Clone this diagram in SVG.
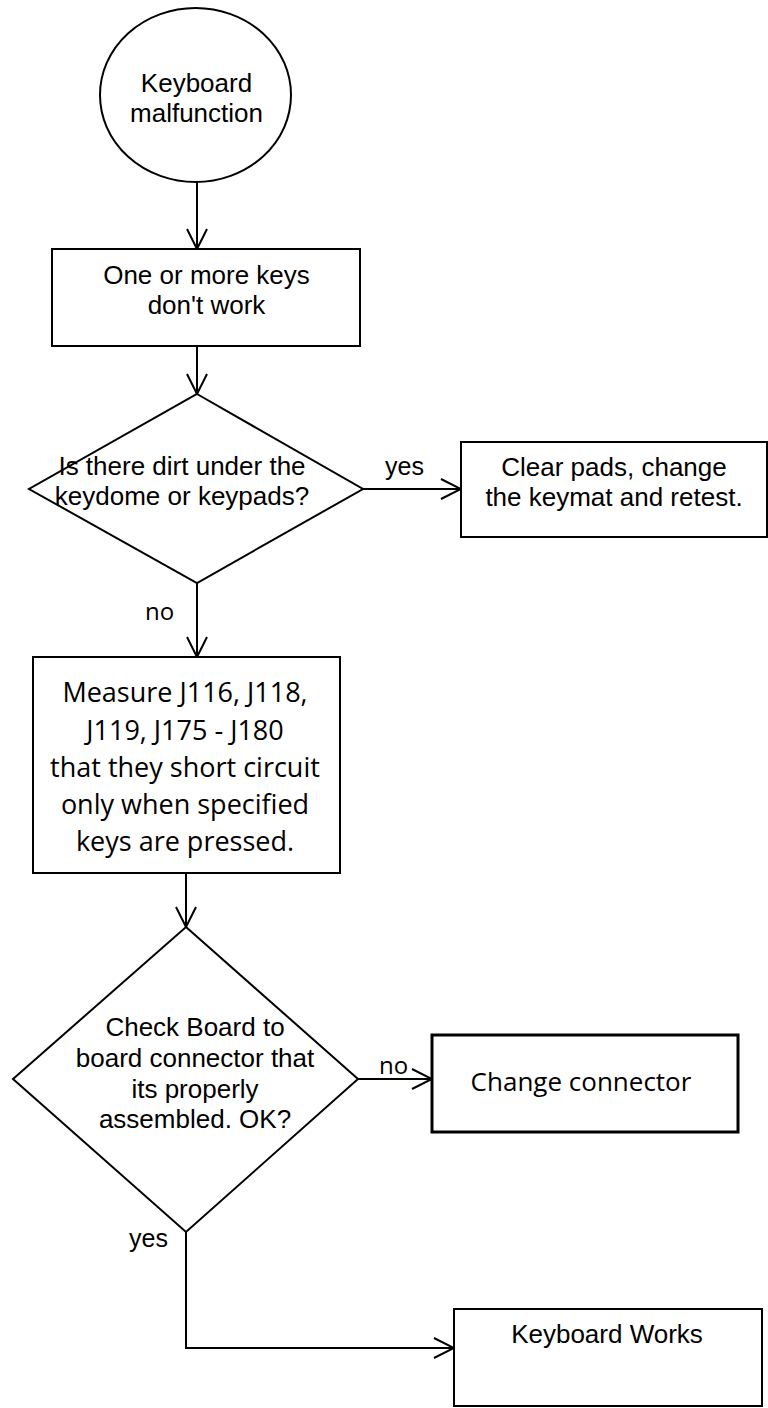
<svg xmlns="http://www.w3.org/2000/svg" width="768" height="1408" viewBox="0 0 768 1408">
<style>
.shape{fill:#fff;stroke:#000;stroke-width:2}
.thick{stroke-width:3}
.conn{fill:none;stroke:#000;stroke-width:2}
.a{font-family:"Liberation Sans",Arial,sans-serif;font-size:26px;fill:#000;text-anchor:middle}
.n{font-family:"Open Sans","Noto Sans",sans-serif;font-size:27px;fill:#000;text-anchor:middle}
.lbl{font-family:"Open Sans","Noto Sans",sans-serif;font-size:24px;fill:#000}
.al{font-family:"Liberation Sans",Arial,sans-serif;font-size:25px;fill:#000}
</style>
<defs>
<marker id="arr" markerUnits="userSpaceOnUse" viewBox="0 0 24 24" markerWidth="24" markerHeight="24" refX="22" refY="12" orient="auto">
<path d="M2,2 L22,12 L2,22" fill="none" stroke="#000" stroke-width="2"/>
</marker>
</defs>
<rect width="768" height="1408" fill="#fff"/>
<g id="connectors">
<line class="conn" x1="197" y1="182" x2="197" y2="249" marker-end="url(#arr)"/>
<line class="conn" x1="197" y1="346" x2="197" y2="394" marker-end="url(#arr)"/>
<line class="conn" x1="363" y1="489" x2="461" y2="489" marker-end="url(#arr)"/>
<line class="conn" x1="197" y1="583" x2="197" y2="657" marker-end="url(#arr)"/>
<line class="conn" x1="186" y1="873" x2="186" y2="927" marker-end="url(#arr)"/>
<line class="conn" x1="358" y1="1079" x2="432" y2="1079" marker-end="url(#arr)"/>
<polyline class="conn" points="186,1232 186,1348 454,1348" marker-end="url(#arr)"/>
<text class="al" x="385" y="475">yes</text>
<text class="lbl" x="145" y="620">no</text>
<text class="lbl" x="379" y="1074">no</text>
<text class="al" x="129" y="1247">yes</text>
</g>
<g id="start">
<ellipse class="shape" cx="195.5" cy="95" rx="95.5" ry="87"/>
<text class="a" x="196.5" y="92">Keyboard</text>
<text class="a" x="196.5" y="122">malfunction</text>
</g>
<g id="keys">
<rect class="shape" x="52" y="249" width="308" height="97"/>
<text class="a" x="206.5" y="284">One or more keys</text>
<text class="a" x="206.5" y="314">don't work</text>
</g>
<g id="dirt">
<polygon class="shape" points="197,394 363,489 197,583 29,489"/>
<text class="a" x="182" y="475">Is there dirt under the</text>
<text class="a" x="182" y="505">keydome or keypads?</text>
</g>
<g id="clear">
<rect class="shape" x="461" y="442" width="306" height="95"/>
<text class="a" x="614" y="476">Clear pads, change</text>
<text class="a" x="614" y="506">the keymat and retest.</text>
</g>
<g id="measure">
<rect class="shape" x="33" y="657" width="307" height="216"/>
<text class="n" x="185" y="702">Measure J116, J118,</text>
<text class="n" x="185" y="740">J119, J175 - J180</text>
<text class="n" x="185" y="777">that they short circuit</text>
<text class="n" x="185" y="814">only when specified</text>
<text class="n" x="185" y="851">keys are pressed.</text>
</g>
<g id="check">
<polygon class="shape" points="186,927 358,1079 186,1232 13,1079"/>
<text class="a" x="195" y="1036">Check Board to</text>
<text class="a" x="195" y="1067">board connector that</text>
<text class="a" x="195" y="1098">its properly</text>
<text class="a" x="195" y="1128">assembled. OK?</text>
</g>
<g id="change">
<rect class="shape thick" x="432" y="1035" width="306" height="97"/>
<text class="n" x="581" y="1091" style="font-size:26px">Change connector</text>
</g>
<g id="works">
<rect class="shape" x="454" y="1309" width="308" height="97"/>
<text class="a" x="607" y="1343">Keyboard Works</text>
</g>
</svg>
